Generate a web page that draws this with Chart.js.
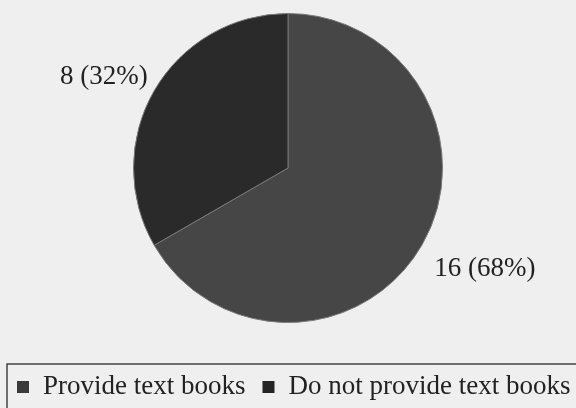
<!DOCTYPE html>
<html>
<head>
<meta charset="utf-8">
<script src="https://cdn.jsdelivr.net/npm/chart.js@4"></script>
<style>
    html, body { margin: 0; padding: 0; background: #efefef; }
    #wrap { width: 576px; height: 408px; position: relative; }
</style>
</head>
<body>
<div id="wrap"><canvas id="pie" width="576" height="408"></canvas></div>
<script>
const labels = ['Provide text books', 'Do not provide text books'];
const counts = [16, 8];
const percents = [68, 32];
const sliceColors = ['#464646', '#2a2a2a'];
const legendColors = ['#3a3a3a', '#242424'];

const serif = '"Liberation Serif", "Times New Roman", serif';

// value labels just outside each slice
const sliceLabels = {
    id: 'sliceLabels',
    afterDatasetsDraw(chart) {
        const ctx = chart.ctx;
        const meta = chart.getDatasetMeta(0);
        ctx.save();
        ctx.font = '27px ' + serif;
        ctx.fillStyle = '#222';
        meta.data.forEach((arc, i) => {
            const mid = (arc.startAngle + arc.endAngle) / 2;
            const r = arc.outerRadius + 12;
            const x = arc.x + Math.cos(mid) * r;
            const y = arc.y + Math.sin(mid) * r;
            const upper = y < arc.y;
            ctx.textAlign = x < arc.x ? 'right' : 'left';
            ctx.textBaseline = upper ? 'bottom' : 'top';
            ctx.fillText(`${counts[i]} (${percents[i]}%)`, x + (upper ? 4 : 2), y + (upper ? 6 : 4));
        });
        ctx.restore();
    }
};

// boxed legend along the bottom
const boxLegend = {
    id: 'boxLegend',
    afterDraw(chart) {
        const ctx = chart.ctx;
        const top = 364;
        ctx.save();
        ctx.strokeStyle = '#444';
        ctx.lineWidth = 1.5;
        ctx.strokeRect(7, top, 600, 80);
        ctx.font = '27px ' + serif;
        ctx.textBaseline = 'alphabetic';
        ctx.textAlign = 'left';
        let x = 17;
        chart.data.labels.forEach((lab, i) => {
            ctx.fillStyle = legendColors[i];
            ctx.fillRect(x, 381, 12, 12);
            ctx.fillStyle = '#222';
            ctx.fillText(lab, x + 26, 394);
            x += 26 + ctx.measureText(lab).width + 17;
        });
        ctx.restore();
    }
};

new Chart(document.getElementById('pie').getContext('2d'), {
    type: 'pie',
    data: {
        labels,
        datasets: [{
            data: counts,
            backgroundColor: sliceColors,
            borderColor: '#777',
            borderWidth: 1,
        }]
    },
    options: {
        responsive: false,
        animation: false,
        layout: { padding: { top: 13, bottom: 85, left: 0, right: 0 } },
        plugins: {
            legend: { display: false },
            tooltip: { enabled: false }
        }
    },
    plugins: [sliceLabels, boxLegend]
});
</script>
</body>
</html>
